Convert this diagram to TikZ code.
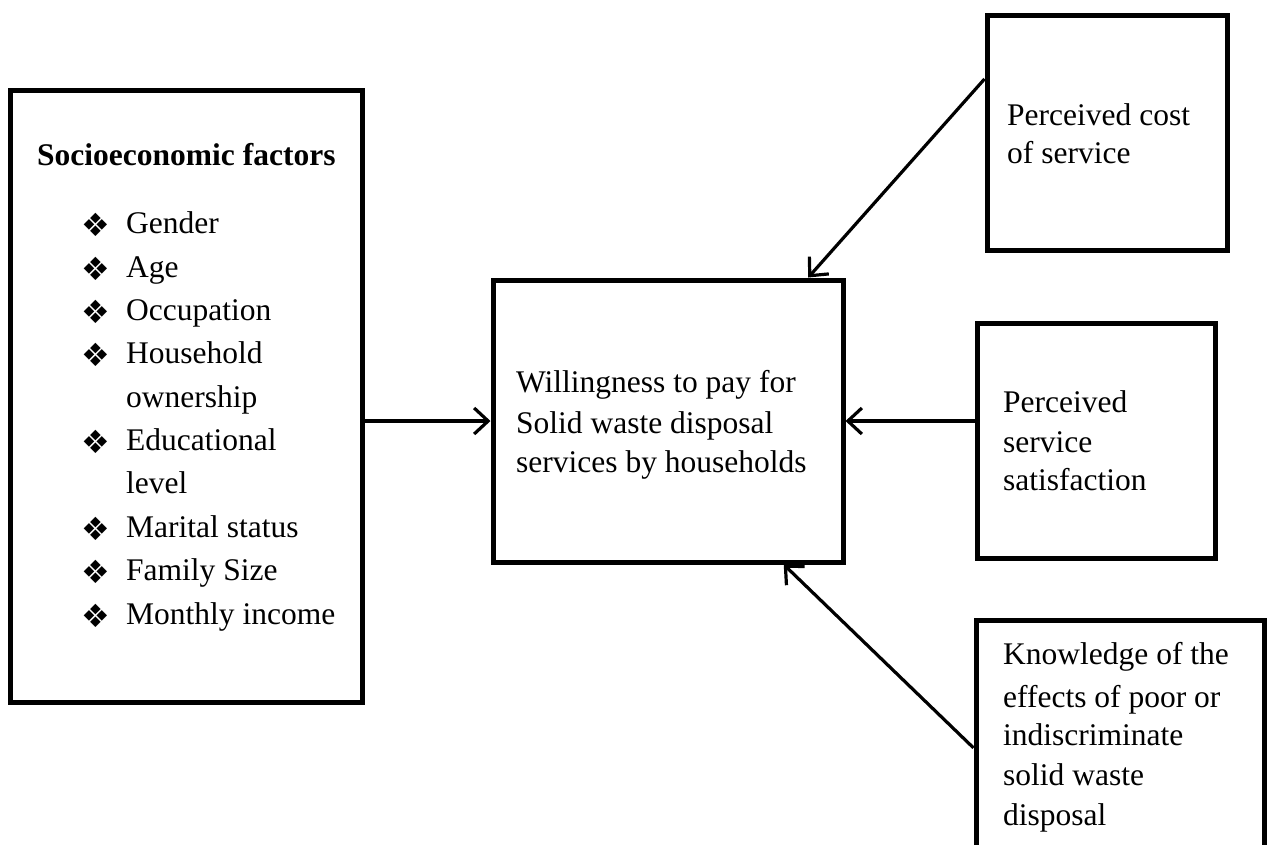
\documentclass[tikz,border=0pt]{standalone}
\usepackage{fontspec}
\setmainfont{Liberation Serif}
\newfontfamily\symfont{DejaVu Sans}
\usetikzlibrary{arrows.meta,calc}
\tikzset{
  box/.style={draw=black, line width=5pt, rectangle, inner sep=0pt, fill=none},
  txt/.style={anchor=base west, inner sep=0pt, font=\fontsize{31.5}{38}\selectfont},
  bul/.style={anchor=base west, inner sep=0pt, font=\symfont\fontsize{32}{36}\selectfont},
  conn/.style={draw=black, line width=3.2pt, -{Straight Barb[length=14pt,width=26pt,line width=3.2pt]}}
}
\begin{document}
\begin{tikzpicture}[x=1pt,y=-1pt]
\useasboundingbox (0,0) rectangle (1271,844);
\clip (0,0) rectangle (1271,844);
\fill[white] (0,0) rectangle (1271,844);
% boxes
\node[box, minimum width=352pt, minimum height=612pt] (L) at (186,396) {};
\node[box, minimum width=350pt, minimum height=282pt] (C) at (668,421) {};
\node[box, minimum width=240pt, minimum height=235pt] (T) at (1107,132.5) {};
\node[box, minimum width=238pt, minimum height=235pt] (M) at (1096,440.5) {};
\node[box, minimum width=288pt, minimum height=260pt] (B) at (1120,750) {};
% left box text
\node[txt, font=\bfseries\fontsize{31.5}{38}\selectfont] (Lt) at (37,165) {Socioeconomic factors};
\foreach \y/\t [count=\i] in {233/Gender,277/Age,320/Occupation,363/Household,450/Educational,537/Marital status,580/Family Size,624/Monthly income}{
  \node[bul] (b\i) at (81,\y+3) {❖};
  \node[txt] (l\i) at (126,\y) {\t};
}
\node[txt] (l9) at (126,407) {ownership};
\node[txt] (l10) at (126,493) {level};
% center text
\node[txt] (c1) at (516,392) {Willingness to pay for};
\node[txt] (c2) at (516,433) {Solid waste disposal};
\node[txt] (c3) at (516,472) {services by households};
% top right
\node[txt] (t1) at (1007,125) {Perceived cost};
\node[txt] (t2) at (1007,163) {of service};
% middle right
\node[txt] (m1) at (1003,412) {Perceived};
\node[txt] (m2) at (1003,452) {service};
\node[txt] (m3) at (1003,490) {satisfaction};
% bottom right
\node[txt] (k1) at (1003,664) {Knowledge of the};
\node[txt] (k2) at (1003,707) {effects of poor or};
\node[txt] (k3) at (1003,745) {indiscriminate};
\node[txt] (k4) at (1003,785) {solid waste};
\node[txt] (k5) at (1003,825) {disposal};
% connector end points
\coordinate (Tout) at ($(T.north west)!0.277!(T.south west)$);
\coordinate (Cin1) at ($(C.north west)!0.895!(C.north east)$);
\coordinate (Bout) at ($(B.north west)!0.492!(B.south west)$);
\coordinate (Cin2) at ($(C.south west)!0.826!(C.south east)$);
% connectors
\draw[conn] (L.east |- C.west) -- (C.west);
\draw[conn] (M.west |- C.east) -- (C.east);
\draw[conn] (Tout) -- (Cin1);
\draw[conn] (Bout) -- (Cin2);
\end{tikzpicture}
\end{document}
